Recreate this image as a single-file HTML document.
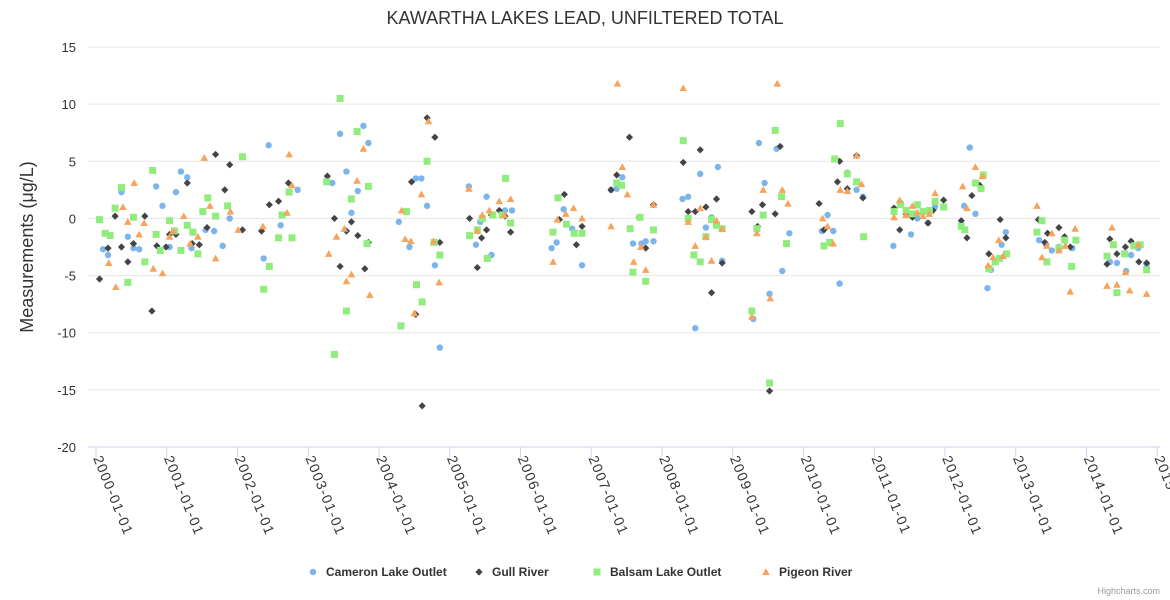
<!DOCTYPE html>
<html><head><meta charset="utf-8">
<style>
html,body{margin:0;padding:0;background:#fff;}
svg{display:block;font-family:"Liberation Sans",Arial,sans-serif;}
</style></head>
<body>
<svg id="chart" width="1170" height="600">
<text x="585" y="24" text-anchor="middle" font-size="18" fill="#333">KAWARTHA LAKES LEAD, UNFILTERED TOTAL</text>
<text transform="translate(33,247) rotate(-90)" text-anchor="middle" font-size="18" fill="#333">Measurements (μg/L)</text>
<g id="grid"></g><g id="xaxis"></g><g id="marks"></g><g id="legend"></g>
<text x="1160" y="594" text-anchor="end" font-size="9" fill="#999">Highcharts.com</text>
</svg>
<script>
const yTicks=[15,10,5,0,-5,-10,-15,-20];
const xTickYears=[2000,2001,2002,2003,2004,2005,2006,2007,2008,2009,2010,2011,2012,2013,2014,2015];
const xTickLabels=["2000-01-01","2001-01-01","2002-01-01","2003-01-01","2004-01-01","2005-01-01","2006-01-01","2007-01-01","2008-01-01","2009-01-01","2010-01-01","2011-01-01","2012-01-01","2013-01-01","2014-01-01","2015-01-01"];
const seriesNames=["Cameron Lake Outlet","Gull River","Balsam Lake Outlet","Pigeon River"];
const cameron=[[2000.10,-2.7],[2000.17,-3.2],[2000.36,2.3],[2000.45,-1.6],[2000.53,-2.6],[2000.61,-2.7],[2000.85,2.8],[2000.94,1.1],[2001.04,-2.5],[2001.13,2.3],[2001.20,4.1],[2001.29,3.6],[2001.35,-2.6],[2001.55,-1.0],[2001.67,-1.1],[2001.79,-2.4],[2001.89,0],[2002.44,6.4],[2002.37,-3.5],[2002.61,-0.6],[2002.85,2.5],[2003.34,3.1],[2003.45,7.4],[2003.54,4.1],[2003.61,0.5],[2003.70,2.4],[2003.78,8.1],[2003.85,6.6],[2004.28,-0.3],[2004.43,-2.5],[2004.52,3.5],[2004.60,3.5],[2004.68,1.1],[2004.79,-4.1],[2004.86,-11.3],[2005.27,2.8],[2005.37,-2.3],[2005.43,-0.3],[2005.52,1.9],[2005.59,-3.2],[2005.78,0.7],[2005.88,0.7],[2006.44,-2.6],[2006.51,-2.1],[2006.61,0.8],[2006.73,-0.9],[2006.87,-4.1],[2007.28,2.5],[2007.36,2.6],[2007.44,3.6],[2007.59,-2.2],[2007.71,-2.2],[2007.77,-2.0],[2007.88,-2.0],[2008.29,1.7],[2008.37,1.9],[2008.47,-9.6],[2008.54,3.9],[2008.62,-0.8],[2008.70,0.1],[2008.79,4.5],[2008.85,-3.7],[2009.29,-8.8],[2009.37,6.6],[2009.45,3.1],[2009.52,-6.6],[2009.62,6.1],[2009.70,-4.6],[2009.80,-1.3],[2010.26,-1.1],[2010.34,0.3],[2010.42,-1.1],[2010.51,-5.7],[2010.62,4.0],[2010.75,2.5],[2010.84,1.9],[2011.27,-2.4],[2011.36,1.4],[2011.52,-1.4],[2011.61,0],[2011.76,-0.4],[2011.86,1.0],[2012.27,1.1],[2012.35,6.2],[2012.43,0.4],[2012.60,-6.1],[2012.65,-4.5],[2012.80,-2.3],[2012.86,-1.2],[2013.33,-1.9],[2013.43,-2.3],[2013.51,-2.8],[2013.61,-2.5],[2013.80,-2.6],[2014.33,-3.8],[2014.43,-3.9],[2014.56,-4.6],[2014.63,-3.2],[2014.73,-2.6],[2014.85,-4.0]];
const gull=[[2000.05,-5.3],[2000.17,-2.6],[2000.27,0.2],[2000.36,-2.5],[2000.45,-3.8],[2000.53,-2.2],[2000.69,0.2],[2000.79,-8.1],[2000.86,-2.4],[2000.99,-2.5],[2001.04,-1.4],[2001.13,-1.4],[2001.29,3.1],[2001.36,-2.2],[2001.46,-2.3],[2001.57,-0.8],[2001.69,5.6],[2001.82,2.5],[2001.89,4.7],[2002.07,-1.0],[2002.34,-1.1],[2002.45,1.2],[2002.58,1.5],[2002.72,3.1],[2003.27,3.7],[2003.37,0],[2003.45,-4.2],[2003.54,-1.1],[2003.61,-0.3],[2003.70,-1.5],[2003.80,-4.4],[2003.85,-2.1],[2004.46,3.2],[2004.52,-8.4],[2004.61,-16.4],[2004.68,8.8],[2004.79,7.1],[2004.86,-2.1],[2005.28,0],[2005.39,-4.3],[2005.45,-1.7],[2005.52,-1.0],[2005.59,0.3],[2005.70,0.7],[2005.78,0.2],[2005.86,-1.2],[2006.55,-0.1],[2006.62,2.1],[2006.79,-2.3],[2006.87,-0.7],[2007.28,2.5],[2007.36,3.8],[2007.54,7.1],[2007.68,0.1],[2007.77,-2.6],[2007.88,1.2],[2008.30,4.9],[2008.37,0.6],[2008.47,0.6],[2008.54,6.0],[2008.62,1.0],[2008.70,-6.5],[2008.77,1.7],[2008.85,-3.9],[2009.27,0.6],[2009.35,-0.7],[2009.42,1.2],[2009.52,-15.1],[2009.60,0.4],[2009.67,6.3],[2010.22,1.3],[2010.29,-1.0],[2010.48,3.2],[2010.51,5.0],[2010.62,2.6],[2010.75,5.5],[2010.84,1.8],[2011.28,0.9],[2011.36,-1.0],[2011.45,0.4],[2011.54,0.1],[2011.76,-0.4],[2011.83,0.7],[2011.98,1.6],[2012.23,-0.2],[2012.31,-1.7],[2012.38,2.0],[2012.49,2.9],[2012.62,-3.1],[2012.78,-0.1],[2012.86,-1.7],[2013.32,-0.1],[2013.41,-2.1],[2013.45,-1.3],[2013.61,-0.8],[2013.69,-1.6],[2013.77,-2.5],[2014.29,-4.0],[2014.33,-1.8],[2014.43,-3.1],[2014.55,-2.5],[2014.63,-2.0],[2014.74,-3.8],[2014.85,-3.9]];
const balsam=[[2000.05,-0.1],[2000.13,-1.3],[2000.20,-1.5],[2000.27,0.9],[2000.36,2.7],[2000.45,-5.6],[2000.53,0.1],[2000.69,-3.8],[2000.80,4.2],[2000.85,-1.4],[2000.91,-2.8],[2001.04,-0.2],[2001.11,-1.1],[2001.20,-2.8],[2001.29,-0.6],[2001.37,-1.2],[2001.44,-3.1],[2001.51,0.6],[2001.58,1.8],[2001.69,0.2],[2001.86,1.1],[2002.07,5.4],[2002.37,-6.2],[2002.45,-4.2],[2002.58,-1.7],[2002.63,0.3],[2002.73,2.3],[2002.77,-1.7],[2003.26,3.2],[2003.37,-11.9],[2003.45,10.5],[2003.54,-8.1],[2003.61,1.7],[2003.69,7.6],[2003.83,-2.2],[2003.85,2.8],[2004.31,-9.4],[2004.39,0.6],[2004.53,-5.8],[2004.61,-7.3],[2004.68,5.0],[2004.78,-2.1],[2004.86,-3.2],[2005.28,-1.5],[2005.39,-1.0],[2005.46,0],[2005.53,-3.5],[2005.61,0.3],[2005.74,0.3],[2005.79,3.5],[2005.86,-0.4],[2006.46,-1.2],[2006.53,1.8],[2006.65,-0.5],[2006.76,-1.3],[2006.87,-1.3],[2007.36,3.1],[2007.43,2.9],[2007.55,-0.9],[2007.59,-4.7],[2007.69,0.1],[2007.77,-5.5],[2007.88,-1.0],[2008.30,6.8],[2008.37,0],[2008.45,-3.2],[2008.54,-3.8],[2008.62,-1.6],[2008.70,-0.1],[2008.77,-0.6],[2008.85,-0.9],[2009.27,-8.1],[2009.34,-0.9],[2009.43,0.3],[2009.52,-14.4],[2009.60,7.7],[2009.69,1.9],[2009.76,-2.2],[2010.29,-2.4],[2010.37,-2.1],[2010.44,5.2],[2010.52,8.3],[2010.62,3.9],[2010.75,3.2],[2010.85,-1.6],[2011.28,0.6],[2011.37,1.2],[2011.45,0.7],[2011.54,0.4],[2011.61,1.2],[2011.69,0.6],[2011.78,0.7],[2011.86,1.5],[2011.98,1.0],[2012.23,-0.7],[2012.28,-1.0],[2012.43,3.1],[2012.51,2.6],[2012.54,3.8],[2012.62,-4.4],[2012.71,-3.8],[2012.77,-3.5],[2012.87,-3.1],[2013.30,-1.2],[2013.37,-0.2],[2013.44,-3.8],[2013.61,-2.6],[2013.69,-1.9],[2013.79,-4.2],[2013.85,-1.9],[2014.29,-3.3],[2014.38,-2.3],[2014.43,-6.5],[2014.54,-3.1],[2014.67,-2.4],[2014.76,-2.3],[2014.85,-4.5]];
const pigeon=[[2000.18,-3.9],[2000.28,-6.0],[2000.38,1.0],[2000.45,-0.3],[2000.54,3.1],[2000.61,-1.4],[2000.68,-0.4],[2000.81,-4.4],[2000.94,-4.8],[2001.04,-1.6],[2001.09,-1.1],[2001.24,0.2],[2001.33,-2.2],[2001.44,-1.6],[2001.53,5.3],[2001.61,1.1],[2001.69,-3.5],[2001.90,0.6],[2002.01,-1.0],[2002.36,-0.7],[2002.70,0.5],[2002.73,5.6],[2002.77,2.9],[2003.29,-3.1],[2003.40,-1.6],[2003.51,-0.9],[2003.54,-5.5],[2003.61,-4.9],[2003.69,3.3],[2003.78,6.1],[2003.87,-6.7],[2004.32,0.7],[2004.37,-1.8],[2004.45,-2.0],[2004.50,-8.3],[2004.60,2.1],[2004.70,8.5],[2004.77,-2.0],[2004.85,-5.6],[2005.27,2.6],[2005.39,-1.1],[2005.46,0.3],[2005.56,0.7],[2005.70,1.5],[2005.77,0.3],[2005.86,1.7],[2006.46,-3.8],[2006.52,-0.1],[2006.64,0.4],[2006.75,0.9],[2006.87,0],[2007.28,-0.7],[2007.37,11.8],[2007.44,4.5],[2007.51,2.1],[2007.60,-3.8],[2007.70,-2.5],[2007.77,-4.5],[2007.88,1.2],[2008.30,11.4],[2008.37,-0.3],[2008.47,-2.4],[2008.54,0.9],[2008.62,-1.6],[2008.70,-3.7],[2008.77,-0.2],[2008.85,-0.9],[2009.27,-8.6],[2009.34,-1.3],[2009.43,2.5],[2009.53,-7.0],[2009.63,11.8],[2009.70,2.5],[2009.78,1.3],[2010.27,0],[2010.34,-0.7],[2010.42,-2.2],[2010.52,2.5],[2010.62,2.4],[2010.75,5.5],[2010.82,3.0],[2011.28,0.1],[2011.36,1.6],[2011.45,0.3],[2011.54,1.1],[2011.61,0.5],[2011.69,0.2],[2011.78,0.4],[2011.86,2.2],[2012.25,2.8],[2012.31,0.9],[2012.43,4.5],[2012.53,3.7],[2012.61,-4.1],[2012.68,-3.4],[2012.76,-1.9],[2012.82,-3.3],[2013.30,1.1],[2013.37,-3.4],[2013.44,-2.4],[2013.51,-1.3],[2013.61,-2.8],[2013.70,-2.4],[2013.77,-6.4],[2013.84,-0.9],[2014.29,-5.9],[2014.36,-0.8],[2014.43,-5.8],[2014.55,-4.7],[2014.61,-6.3],[2014.73,-2.3],[2014.85,-6.6]];

const NS="http://www.w3.org/2000/svg";
const PL=88,PR=1160,PT=47,PB=447;
function xS(v){return 96+(v-2000)*70.75;}
function yS(v){return PT+(15-v)*(PB-PT)/35;}
function mk(tag,attrs,parent){const e=document.createElementNS(NS,tag);for(const k in attrs)e.setAttribute(k,attrs[k]);parent.appendChild(e);return e;}
const grid=document.getElementById('grid'),xa=document.getElementById('xaxis'),marks=document.getElementById('marks'),leg=document.getElementById('legend');
yTicks.forEach(t=>{
  const y=yS(t);
  if(t!==-20){const l=mk('line',{x1:PL,x2:PR,y1:y,y2:y,stroke:'#e6e6e6','stroke-width':1},grid);
  
  }
  const tx=mk('text',{x:76,y:y+5,'text-anchor':'end','font-size':13,fill:'#333'},grid);
  tx.textContent=t;
  
  
});
const ax=mk('line',{x1:PL,x2:PR,y1:PB,y2:PB,stroke:'#ccd6eb','stroke-width':1},xa);


xTickYears.forEach((yr,i)=>{
  const x=xS(yr);
  const tk=mk('line',{x1:x,x2:x,y1:PB,y2:PB+10,stroke:'#ccd6eb'},xa);
  
  
  const tx=mk('text',{transform:'translate('+(x-3)+','+(PB+11)+') rotate(68)','font-size':14,'letter-spacing':'1.3',fill:'#333'},xa);
  tx.textContent=xTickLabels[i];
  
  
});
const colors=['#7cb5ec','#434348','#90ed7d','#f7a35c'];
function sym(k,x,y,g){
  if(k===0)return mk('circle',{cx:x,cy:y,r:3.2,fill:colors[0]},g);
  if(k===1)return mk('path',{d:`M${x} ${y-3.6}L${x+3.6} ${y}L${x} ${y+3.6}L${x-3.6} ${y}Z`,fill:colors[1]},g);
  if(k===2)return mk('rect',{x:x-3.5,y:y-3.5,width:7,height:7,fill:colors[2]},g);
  return mk('path',{d:`M${x} ${y-3.8}L${x+3.8} ${y+3}L${x-3.8} ${y+3}Z`,fill:colors[3]},g);
}
const allSeries=[cameron,gull,balsam,pigeon];
const snames=['cameron-lake-outlet','gull-river','balsam-lake-outlet','pigeon-river'];
allSeries.forEach((data,k)=>{
  const g=mk('g',{},marks);
  
  
  data.forEach(p=>{
    const m=sym(k,xS(p[0]),yS(p[1]),g);
    
    
  });
});
const legX=[313,479,597,766];
seriesNames.forEach((n,k)=>{
  const g=mk('g',{},leg);
  
  
  sym(k,legX[k],572,g);
  const t=mk('text',{x:legX[k]+13,y:576,'font-size':12,'font-weight':'bold',fill:'#333'},g);
  t.textContent=n;
});
</script>
</body></html>
